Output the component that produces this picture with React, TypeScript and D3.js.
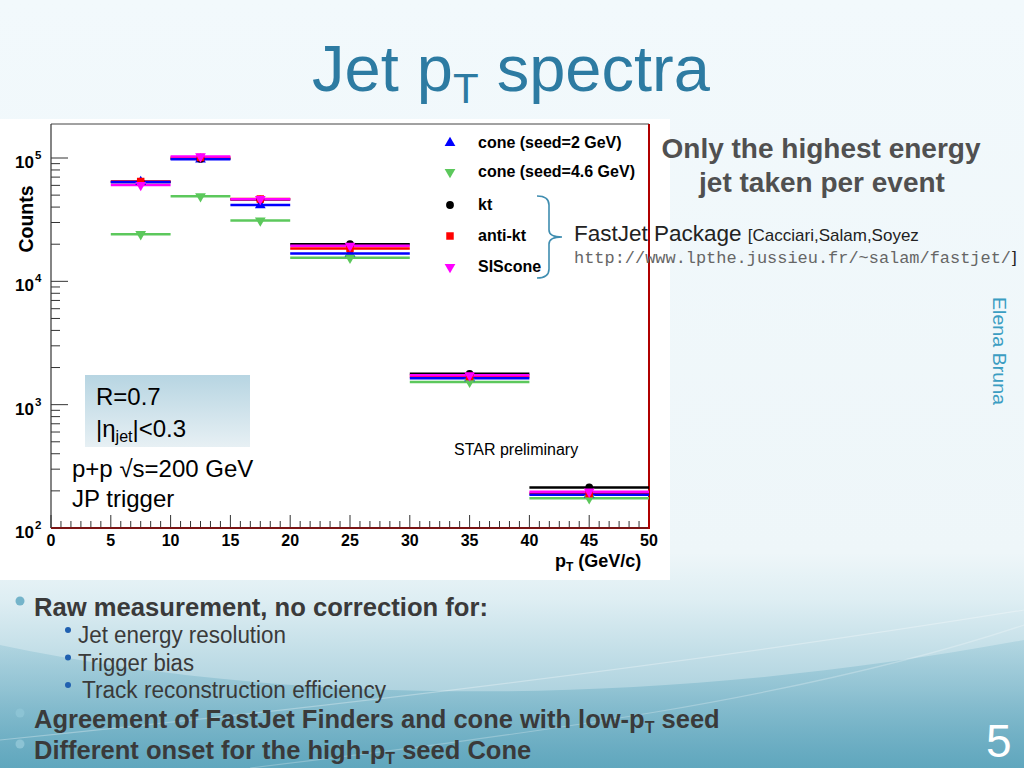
import React from "react";
import {
  scaleLinear,
  scaleLog,
  symbol,
  symbolTriangle,
  symbolCircle,
  symbolSquare,
  range,
} from "d3";

// bins in pT (GeV/c)
const binLow = [5, 10, 15, 20, 30, 40];
const binHigh = [10, 15, 20, 30, 40, 50];

// raw counts per finder
const cone2 = [64000, 97500, 41500, 16800, 1640, 186];
const cone46 = [24100, 48900, 31100, 15500, 1530, 174];
const kt = [64000, 98500, 46000, 20000, 1780, 213];
const antikt = [64500, 101000, 46500, 18500, 1690, 190];
const siscone = [60300, 103000, 46400, 19400, 1730, 197];

const seriesNames = [
  "cone (seed=2 GeV)",
  "cone (seed=4.6 GeV)",
  "kt",
  "anti-kt",
  "SIScone",
];

const xTickValues = [0, 5, 10, 15, 20, 25, 30, 35, 40, 45, 50];
const yDecades = [100, 1000, 10000, 100000];
const yExponents = ["2", "3", "4", "5"];

const subBullets = [
  "Jet energy resolution",
  "Trigger bias",
  "Track reconstruction efficiency",
];
const subBulletX = [78, 78, 82];
const subBulletWidth = [208, 116, 304];

const FONT = "'Liberation Sans', Arial, Helvetica, sans-serif";
const MONO = "'Liberation Mono', 'Courier New', monospace";

const seriesValues = [cone2, cone46, kt, antikt, siscone];
const seriesStyle = [
  { color: "#0000ff", shape: "up" },
  { color: "#5cc85c", shape: "down" },
  { color: "#000000", shape: "circle" },
  { color: "#ff0000", shape: "square" },
  { color: "#ff00ff", shape: "down" },
];
// line draw order: kt, anti-kt, SIScone, cone4.6, cone2
const lineOrder = [2, 3, 4, 1, 0];
const markerOrder = [0, 1, 2, 3, 4];

const markerPath = (shape: string) => {
  if (shape === "circle") return symbol().type(symbolCircle).size(48)()!;
  if (shape === "square") return symbol().type(symbolSquare).size(56)()!;
  return symbol().type(symbolTriangle).size(50)()!;
};

const Marker = ({ x, y, shape, color }: any) => (
  <path
    d={markerPath(shape)}
    fill={color}
    transform={`translate(${x},${y})${shape === "down" ? " rotate(180)" : ""}`}
  />
);

const App = () => {
  const x = scaleLinear().domain([0, 50]).range([51, 649]);
  const y = scaleLog().domain([100, 1.887e5]).range([528, 124]);

  const yMinor: number[] = [];
  yDecades.forEach((d) => {
    range(2, 10).forEach((k) => {
      if (k * d <= y.domain()[1]) yMinor.push(k * d);
    });
  });
  const xMinor = range(0, 50, 5 / 6).filter(
    (v) => Math.abs(v / 5 - Math.round(v / 5)) > 0.01
  );

  const legendX = 450;
  const legendY = [143, 172, 205, 236, 267];

  return (
    <svg
      width={1024}
      height={768}
      style={{ position: "absolute", left: 0, top: 0 }}
      fontFamily={FONT}
    >
      <defs>
        <linearGradient id="bg" x1="0" y1="0" x2="0" y2="1">
          <stop offset="0" stopColor="#f2f9fc" />
          <stop offset="0.72" stopColor="#eef6f9" />
          <stop offset="0.78" stopColor="#deeef3" />
          <stop offset="0.9" stopColor="#afd3df" />
          <stop offset="1" stopColor="#74b1c5" />
        </linearGradient>
        <linearGradient id="wave" x1="0" y1="0" x2="0" y2="1">
          <stop offset="0" stopColor="#8cc1d2" stopOpacity="0.35" />
          <stop offset="1" stopColor="#5fa6bd" stopOpacity="0.95" />
        </linearGradient>
        <linearGradient id="inset" x1="0" y1="0" x2="0" y2="1">
          <stop offset="0" stopColor="#b7d5e2" />
          <stop offset="1" stopColor="#e7f0f4" />
        </linearGradient>
      </defs>

      <rect width={1024} height={768} fill="url(#bg)" />
      <path
        d="M0,645 C260,700 620,715 1024,640 L1024,768 L0,768 Z"
        fill="url(#wave)"
      />
      <path
        d="M0,740 C300,710 650,670 1024,610"
        fill="none"
        stroke="#ffffff"
        strokeOpacity={0.3}
        strokeWidth={1.2}
      />
      <path
        d="M250,768 C520,735 800,700 1024,625"
        fill="none"
        stroke="#ffffff"
        strokeOpacity={0.25}
        strokeWidth={1.2}
      />

      {/* title */}
      <text x={312} y={91} fontSize={65} fill="#2d7ba2">
        Jet p
        <tspan fontSize={42} dy={12}>
          T
        </tspan>
        <tspan dy={-12}> spectra</tspan>
      </text>

      {/* ROOT canvas */}
      <rect x={0} y={119} width={670} height={461} fill="#ffffff" />

      {/* y ticks */}
      {yDecades.map((d) => (
        <line
          key={"yM" + d}
          x1={51}
          x2={68}
          y1={y(d)}
          y2={y(d)}
          stroke="#333"
          strokeWidth={1}
        />
      ))}
      {yMinor.map((d) => (
        <line
          key={"ym" + d}
          x1={51}
          x2={60}
          y1={y(d)}
          y2={y(d)}
          stroke="#333"
          strokeWidth={1}
        />
      ))}
      {/* x ticks */}
      {xTickValues.map((v) => (
        <line
          key={"xM" + v}
          x1={x(v)}
          x2={x(v)}
          y1={528}
          y2={515}
          stroke="#333"
          strokeWidth={1}
        />
      ))}
      {xMinor.map((v) => (
        <line
          key={"xm" + v}
          x1={x(v)}
          x2={x(v)}
          y1={528}
          y2={521}
          stroke="#333"
          strokeWidth={1}
        />
      ))}

      {/* frame */}
      <line x1={51} x2={649} y1={124} y2={124} stroke="#444" strokeWidth={1} />
      <line x1={51} x2={51} y1={124} y2={528} stroke="#333" strokeWidth={1.2} />
      <line x1={51} x2={649} y1={528} y2={528} stroke="#7a1515" strokeWidth={1.8} />
      <line x1={649} x2={649} y1={124} y2={529} stroke="#b00000" strokeWidth={2} />

      {/* tick labels */}
      {yDecades.map((d, i) => (
        <g key={"yl" + d} fontWeight="bold" fill="#000">
          <text x={34} y={y(d) + 10} fontSize={17} textAnchor="end">
            10
          </text>
          <text x={35} y={y(d) + 1} fontSize={11.5}>
            {yExponents[i]}
          </text>
        </g>
      ))}
      {xTickValues.map((v) => (
        <text
          key={"xl" + v}
          x={x(v)}
          y={546}
          fontSize={16}
          fontWeight="bold"
          textAnchor="middle"
        >
          {v}
        </text>
      ))}
      <text
        transform="translate(33,219) rotate(-90)"
        fontSize={19.5}
        fontWeight="bold"
        textAnchor="middle"
      >
        Counts
      </text>
      <text x={555} y={567} fontSize={18} fontWeight="bold">
        p
        <tspan fontSize={12} dy={4}>
          T
        </tspan>
        <tspan dy={-4}> (GeV/c)</tspan>
      </text>

      {/* histograms */}
      {lineOrder.map((s) => (
        <g key={"s" + s}>
          {seriesValues[s].map((v, i) => (
            <line
              key={i}
              x1={x(binLow[i])}
              x2={x(binHigh[i])}
              y1={y(v)}
              y2={y(v)}
              stroke={seriesStyle[s].color}
              strokeWidth={2.5}
            />
          ))}
        </g>
      ))}
      {markerOrder.map((s) => (
        <g key={"mk" + s}>
          {seriesValues[s].map((v, i) => (
            <Marker
              key={"m" + i}
              x={x((binLow[i] + binHigh[i]) / 2)}
              y={y(v)}
              shape={seriesStyle[s].shape}
              color={seriesStyle[s].color}
            />
          ))}
        </g>
      ))}

      {/* legend */}
      {seriesNames.map((name, i) => (
        <g key={"lg" + i}>
          <Marker
            x={legendX}
            y={legendY[i]}
            shape={seriesStyle[i].shape}
            color={seriesStyle[i].color}
          />
          <text x={478} y={legendY[i] + 5} fontSize={16} fontWeight="bold">
            {name}
          </text>
        </g>
      ))}

      {/* brace for FastJet finders */}
      <path
        d="M537,196 Q549,196 549,205 L549,230 Q549,237 562,237 Q549,237 549,244 L549,269 Q549,278 537,278"
        fill="none"
        stroke="#3f8db0"
        strokeWidth={1.6}
      />
      <text x={574} y={241} fontSize={22.5} fill="#222">
        FastJet Package{" "}
        <tspan fontSize={17}>[Cacciari,Salam,Soyez</tspan>
      </text>
      <text
        x={574}
        y={263}
        fontSize={16}
        fontFamily={MONO}
        fill="#666"
        textLength={437}
        lengthAdjust="spacingAndGlyphs"
      >
        http://www.lpthe.jussieu.fr/~salam/fastjet/
      </text>
      <text x={1012} y={263} fontSize={17} fill="#222">
        ]
      </text>

      {/* inset */}
      <rect x={85} y={375} width={165} height={72} fill="url(#inset)" />
      <text x={96} y={405} fontSize={24}>
        R=0.7
      </text>
      <text x={96} y={437} fontSize={24}>
        |η
        <tspan fontSize={16} dy={5}>
          jet
        </tspan>
        <tspan dy={-5}>|&lt;0.3</tspan>
      </text>
      <text x={72} y={477} fontSize={24}>
        p+p √s=200 GeV
      </text>
      <text x={72} y={507} fontSize={24}>
        JP trigger
      </text>
      <text x={454} y={455} fontSize={16}>
        STAR preliminary
      </text>

      {/* right notes */}
      <g fontSize={28} fontWeight="bold" fill="#505050" textAnchor="middle">
        <text x={821} y={158}>
          Only the highest energy
        </text>
        <text x={822} y={192}>
          jet taken per event
        </text>
      </g>
      <text
        transform="translate(993,297) rotate(90)"
        fontSize={18}
        fill="#3b9dc2"
        textLength={108}
        lengthAdjust="spacingAndGlyphs"
      >
        Elena Bruna
      </text>

      {/* bullets */}
      <g fill="#3a3a3a">
        <circle cx={20} cy={601} r={4.5} fill="#74b4ca" />
        <text
          x={34}
          y={616}
          fontSize={26}
          fontWeight="bold"
          textLength={454}
          lengthAdjust="spacingAndGlyphs"
        >
          Raw measurement, no correction for:
        </text>
        {subBullets.map((t, i) => (
          <g key={"sb" + i}>
            <circle cx={68} cy={630 + i * 27.5} r={3} fill="#2060b0" />
            <text
              x={subBulletX[i]}
              y={643 + i * 27.5}
              fontSize={23}
              textLength={subBulletWidth[i]}
              lengthAdjust="spacingAndGlyphs"
            >
              {t}
            </text>
          </g>
        ))}
        <circle cx={20} cy={713} r={4.5} fill="#8cc3d4" />
        <text x={34} y={728} fontSize={25.5} fontWeight="bold">
          Agreement of FastJet Finders and cone with low-p
          <tspan fontSize={16} dy={5}>
            T
          </tspan>
          <tspan dy={-5}> seed</tspan>
        </text>
        <circle cx={20} cy={744} r={4.5} fill="#8cc3d4" />
        <text x={34} y={759} fontSize={25.5} fontWeight="bold">
          Different onset for the high-p
          <tspan fontSize={16} dy={5}>
            T
          </tspan>
          <tspan dy={-5}> seed Cone</tspan>
        </text>
      </g>
      <text x={986} y={757} fontSize={46} fill="#ffffff">
        5
      </text>
    </svg>
  );
};

export default App;
